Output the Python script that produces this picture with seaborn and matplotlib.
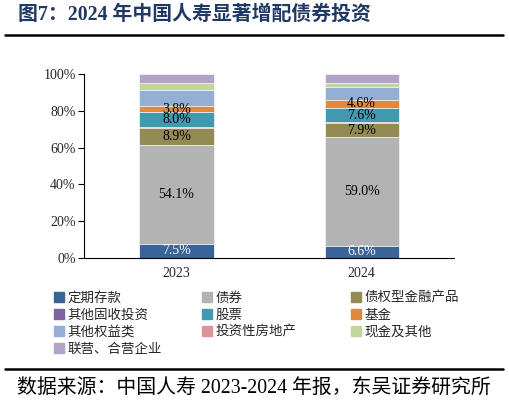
import numpy as np
import pandas as pd
import seaborn as sns
import matplotlib.pyplot as plt
from matplotlib.lines import Line2D

# chart data (percent of investment assets)
years = ['2023', '2024']
series_names = ['定期存款', '债券', '债权型金融产品', '其他固收投资', '股票', '基金',
                '其他权益类', '投资性房地产', '现金及其他', '联营、合营企业']
deposit = [7.5, 6.6]
bond = [54.1, 59.0]
debt_products = [8.9, 7.9]
other_fixed = [0.7, 0.5]
stock = [8.0, 7.6]
fund = [3.8, 4.6]
other_equity = [8.4, 6.9]
real_estate = [0.3, 0.2]
cash = [3.7, 2.2]
affiliates = [4.6, 4.5]
colors = ['#3A6398', '#B3B3B3', '#948A54', '#7F62A0', '#4199B0', '#E0883D',
          '#93AFD6', '#D99694', '#C2D69B', '#B2A2C7']
labelled = ['定期存款', '债券', '债权型金融产品', '股票', '基金']

df = pd.DataFrame([deposit, bond, debt_products, other_fixed, stock, fund,
                   other_equity, real_estate, cash, affiliates],
                  index=series_names, columns=years)
cum = df.cumsum()

sns.set_style('white')
plt.rcParams['font.family'] = ['Liberation Serif', 'Noto Sans CJK SC', 'DejaVu Sans']

fig = plt.figure(figsize=(5.09, 4.03), dpi=100)
ax = fig.add_axes([0.165, 0.3605, 0.727, 0.455])

# stacked bars: draw cumulative totals from the top series down
for name, c in reversed(list(zip(series_names, colors))):
    sns.barplot(x=years, y=cum.loc[name].values, color=c, saturation=1,
                width=0.4, edgecolor='#f2f2f2', linewidth=0.6, ax=ax)

for i, yr in enumerate(years):
    for name in labelled:
        v = df.loc[name, yr]
        mid = cum.loc[name, yr] - v / 2
        ax.text(i, mid, f'{v:.1f}%', ha='center', va='center', fontsize=10,
                color='white' if name == '定期存款' else 'black')

ax.set_xlim(-0.5, 1.5)
ax.set_ylim(0, 100)
ax.set_yticks(range(0, 101, 20))
ax.set_yticklabels([f'{t}%' for t in range(0, 101, 20)], fontsize=10)
ax.set_xticks([-0.5, 0.5, 1.5], minor=True)
ax.tick_params(axis='x', which='major', length=0, labelsize=10, pad=7)
ax.tick_params(axis='x', which='minor', length=4, width=0.8, direction='out', color='black')
ax.tick_params(axis='y', length=4, width=0.8, direction='out', color='black', left=True, pad=2)
ax.set_xlabel('')
ax.set_ylabel('')
for s in ['top', 'right']:
    ax.spines[s].set_visible(False)
for s in ['left', 'bottom']:
    ax.spines[s].set_color('black')
    ax.spines[s].set_linewidth(0.8)

# legend laid out in three columns, row-major order like the original
handles = [Line2D([], [], marker='s', linestyle='', markersize=6.5, color=c) for c in colors]
col_x = [54 / 509, 202 / 509, 351 / 509]
for k in range(3):
    idx = list(range(k, len(series_names), 3))
    fig.legend([handles[j] for j in idx], [series_names[j] for j in idx],
               loc='upper left', bbox_to_anchor=(col_x[k], 1 - 291 / 403),
               frameon=False, borderpad=0, borderaxespad=0, handlelength=0.8,
               handletextpad=0.2, labelspacing=0.22,
               prop={'family': ['Noto Sans CJK SC'], 'size': 9.7})

fig.text(18 / 509, 1 - 15 / 403, '图7：2024 年中国人寿显著增配债券投资',
         fontsize=14.3, fontweight='bold', color='#1F3864', va='center', ha='left')
fig.add_artist(Line2D([5 / 509, 503 / 509], [1 - 34.5 / 403] * 2, color='black', lw=1.8))
fig.add_artist(Line2D([5 / 509, 503 / 509], [1 - 369 / 403] * 2, color='black', lw=1.8))
fig.text(17 / 509, 1 - 388 / 403, '数据来源：中国人寿 2023-2024 年报，东吴证券研究所',
         fontsize=14.3, color='black', va='center', ha='left')

fig.savefig('out.png', dpi=100)
